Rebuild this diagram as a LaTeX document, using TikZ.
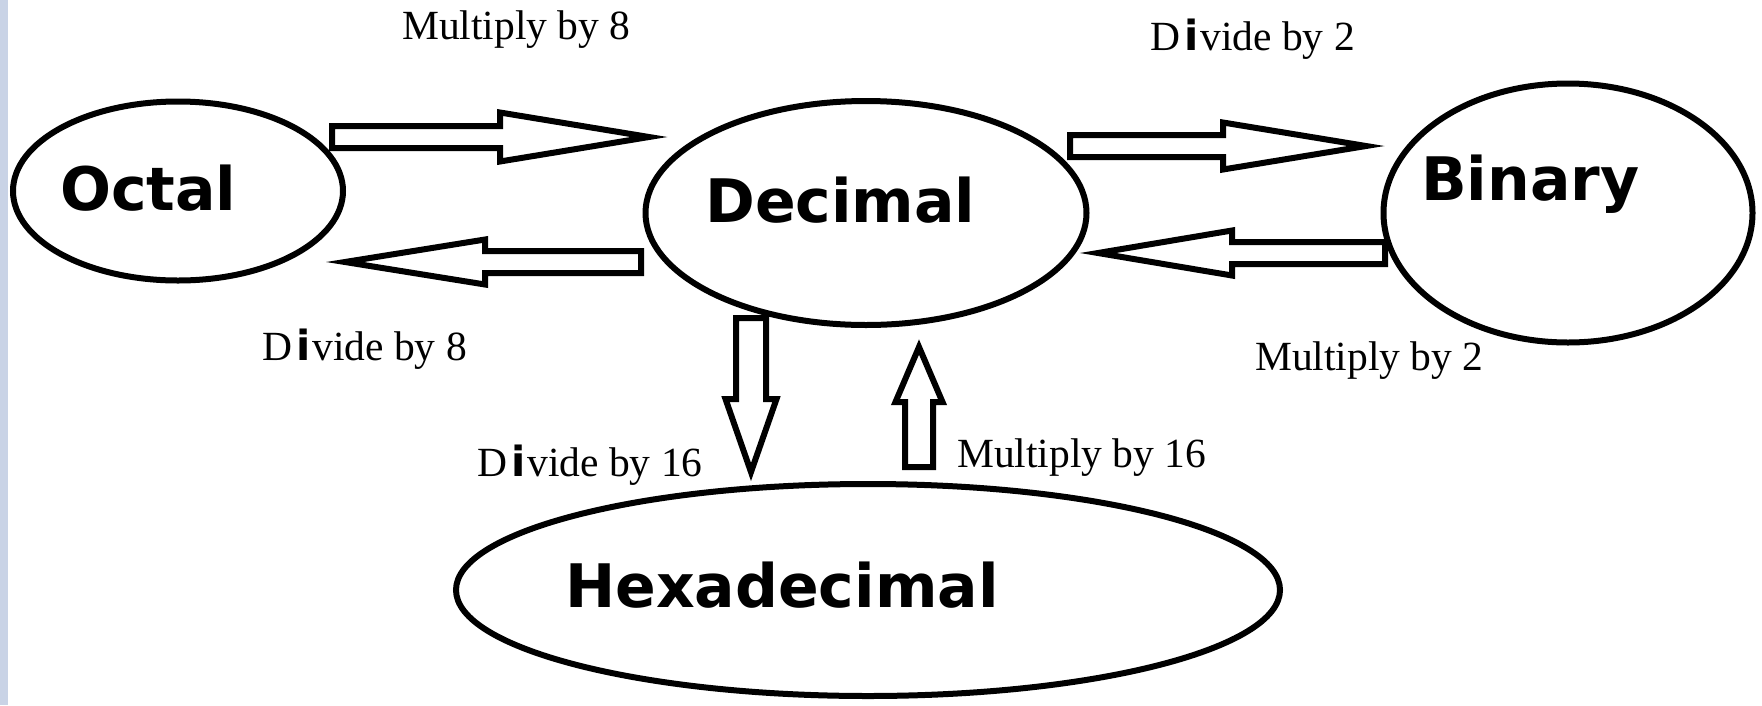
\documentclass[tikz,border=0pt]{standalone}
\usepackage{fontspec}
\setmainfont{Liberation Serif}
\newfontfamily\dv{DejaVu Sans}
\usetikzlibrary{shapes.geometric,calc}
\definecolor{strip}{RGB}{201,211,230}
\tikzset{
  numsys/.style={ellipse, draw=black, line width=6pt, inner sep=0pt},
  bigtext/.style={font=\dv\bfseries\fontsize{60}{72}\selectfont, inner sep=0pt, anchor=base west},
  optext/.style={font=\fontsize{41.5}{50}\selectfont, inner sep=0pt, anchor=base west},
  blockarrow/.style={draw=black, fill=white, line width=6pt, line join=miter},
}
\newcommand{\oddi}{\kern4pt{\dv\bfseries i}\kern2pt}
% #1 start, #2 end (tip), #3 shaft half width, #4 head half width, #5 head length
\newcommand{\blockarr}[5]{%
  \path ($(#2)!#5!(#1)$) coordinate (tmpH);
  \draw[blockarrow] ($(#1)!#3!90:(#2)$) -- ($(tmpH)!#3!90:(#2)$) -- ($(tmpH)!#4!90:(#2)$)
    -- (#2) -- ($(tmpH)!#4!-90:(#2)$) -- ($(tmpH)!#3!-90:(#2)$) -- ($(#1)!#3!-90:(#2)$) -- cycle;
}
\begin{document}
\begin{tikzpicture}[x=1pt, y=-1pt]
  \useasboundingbox (0,0) rectangle (1762,705);
  \fill[strip] (0,0) rectangle (8,705);

  % number systems
  \node[numsys, minimum width=330pt, minimum height=179pt] (oct) at (178,191) {};
  \node[numsys, minimum width=441pt, minimum height=224pt] (dec) at (866,213) {};
  \node[numsys, minimum width=369pt, minimum height=259pt] (bin) at (1568,213) {};
  \node[numsys, minimum width=824pt, minimum height=212pt] (hex) at (868,590) {};

  \node[bigtext] (octT) at (60,210) {Octal};
  \node[bigtext] (decT) at (705,222) {Decimal};
  \node[bigtext] (binT) at (1421,200) {Binary};
  \node[bigtext] (hexT) at (565,607) {Hexadecimal};

  % arrow end points
  \coordinate (od1) at (332,137);  \coordinate (od2) at (649,137);
  \coordinate (do1) at (641,262);  \coordinate (do2) at (345,262);
  \coordinate (db1) at (1070,146); \coordinate (db2) at (1366,146);
  \coordinate (bd1) at (1385,253); \coordinate (bd2) at (1098,253);
  \coordinate (dh1) at (751,318);  \coordinate (dh2) at (751,472);
  \coordinate (hd1) at (919,467);  \coordinate (hd2) at (919,347);

  \blockarr{od1}{od2}{11pt}{24.5pt}{149pt}
  \blockarr{do1}{do2}{11pt}{22.5pt}{140pt}
  \blockarr{db1}{db2}{11pt}{23.5pt}{143pt}
  \blockarr{bd1}{bd2}{11pt}{22.5pt}{134pt}
  \blockarr{dh1}{dh2}{15pt}{25.5pt}{73pt}
  \blockarr{hd1}{hd2}{14pt}{23.5pt}{55pt}

  % operation labels
  \node[optext] (l1) at (402,39)   {Multiply by 8};
  \node[optext] (l2) at (262,360)  {D\oddi vide by 8};
  \node[optext] (l3) at (1150,50)  {D\oddi vide by 2};
  \node[optext] (l4) at (1255,370) {Multiply by 2};
  \node[optext] (l5) at (477,476)  {D\oddi vide by 16};
  \node[optext] (l6) at (957,467)  {Multiply by 16};
\end{tikzpicture}
\end{document}
